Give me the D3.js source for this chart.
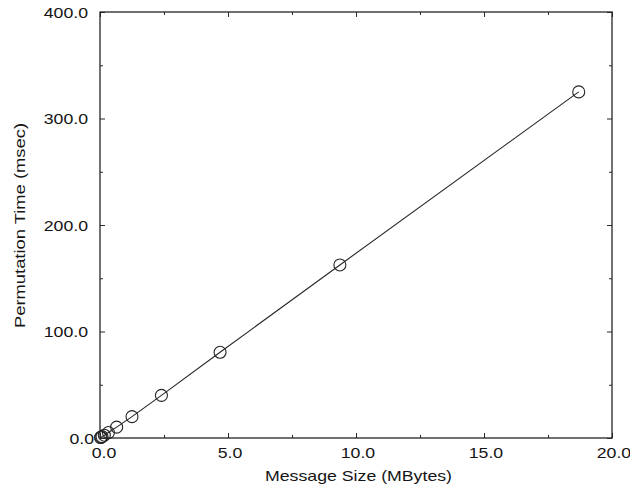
<!DOCTYPE html>
<html>
<head>
<meta charset="utf-8">
<script src="https://cdn.jsdelivr.net/npm/d3@7"></script>
<style>
  html, body { margin: 0; padding: 0; background: #fff; }
  svg text { font-family: "Liberation Sans", Arial, Helvetica, sans-serif; fill: #151515; }
</style>
</head>
<body>
<svg id="chart" width="630" height="492"></svg>
<script>
// Message sizes (MBytes) and measured permutation times (msec)
const messageSize = [0.02, 0.04, 0.08, 0.17, 0.33, 0.65, 1.25, 2.4, 4.69, 9.37, 18.7];
const permTime    = [0.4, 0.7, 1.3, 2.6, 5.1, 10.2, 20.1, 40.0, 80.5, 162.5, 325.0];

const xTicks = [0, 5, 10, 15, 20];
const yTicks = [0, 100, 200, 300, 400];
const xMinor = [2.5, 7.5, 12.5, 17.5];
const yMinor = [50, 150, 250, 350];

const plotLeft = 100, plotRight = 612, plotTop = 12, plotBottom = 438;
const ink = "#262626";
const stretch = 1.18;   // wide lettering

const svg = d3.select("#chart");
const x = d3.scaleLinear().domain([0, 20]).range([plotLeft, plotRight]);
const y = d3.scaleLinear().domain([0, 400]).range([plotBottom, plotTop]);

// Frame
svg.append("rect")
  .attr("x", plotLeft).attr("y", plotTop)
  .attr("width", plotRight - plotLeft).attr("height", plotBottom - plotTop)
  .attr("fill", "none").attr("stroke", ink).attr("stroke-width", 1.3);

// Inward ticks on all four sides (major and minor)
function addTicks(axisFn, scale, values, size, transform) {
  svg.append("g").attr("transform", transform)
    .call(axisFn(scale).tickValues(values).tickSize(-size).tickFormat(""))
    .call(a => a.select(".domain").remove())
    .selectAll("line").attr("stroke", ink);
}
addTicks(d3.axisBottom, x, xTicks, 5, `translate(0,${plotBottom})`);
addTicks(d3.axisBottom, x, xMinor, 3, `translate(0,${plotBottom})`);
addTicks(d3.axisTop, x, xTicks, 5, `translate(0,${plotTop})`);
addTicks(d3.axisTop, x, xMinor, 3, `translate(0,${plotTop})`);
addTicks(d3.axisLeft, y, yTicks, 5, `translate(${plotLeft},0)`);
addTicks(d3.axisLeft, y, yMinor, 3, `translate(${plotLeft},0)`);
addTicks(d3.axisRight, y, yTicks, 5, `translate(${plotRight},0)`);
addTicks(d3.axisRight, y, yMinor, 3, `translate(${plotRight},0)`);

// Tick labels
const fmt = d3.format(".1f");
svg.append("g").selectAll("text").data(xTicks).join("text")
  .attr("transform", d => `translate(${x(d) + (d === 0 ? 4 : 2)},${plotBottom + 20}) scale(${stretch},1)`)
  .attr("text-anchor", "middle")
  .attr("font-size", 15)
  .text(d => fmt(d));

svg.append("g").selectAll("text").data(yTicks).join("text")
  .attr("transform", d => `translate(${d === 0 ? plotLeft - 6 : plotLeft - 12},${y(d) + 5.5}) scale(${stretch},1)`)
  .attr("text-anchor", "end")
  .attr("font-size", 15)
  .text(d => fmt(d));

// Axis titles
svg.append("text")
  .attr("x", 358.5).attr("y", 481)
  .attr("text-anchor", "middle")
  .attr("font-size", 15)
  .attr("textLength", 187)
  .attr("lengthAdjust", "spacingAndGlyphs")
  .text("Message Size (MBytes)");

svg.append("text")
  .attr("transform", `translate(25,225.5) rotate(-90)`)
  .attr("text-anchor", "middle")
  .attr("font-size", 15)
  .attr("textLength", 205)
  .attr("lengthAdjust", "spacingAndGlyphs")
  .text("Permutation Time (msec)");

// Data line and markers
const pts = messageSize.map((v, i) => [v, permTime[i]]);
svg.append("path")
  .datum(pts)
  .attr("fill", "none")
  .attr("stroke", ink)
  .attr("stroke-width", 1.1)
  .attr("d", d3.line().x(d => x(d[0])).y(d => y(d[1])));

svg.append("g").selectAll("circle").data(pts).join("circle")
  .attr("cx", d => x(d[0]))
  .attr("cy", d => y(d[1]))
  .attr("r", 6)
  .attr("fill", "none")
  .attr("stroke", ink)
  .attr("stroke-width", 1.1);
</script>
</body>
</html>
